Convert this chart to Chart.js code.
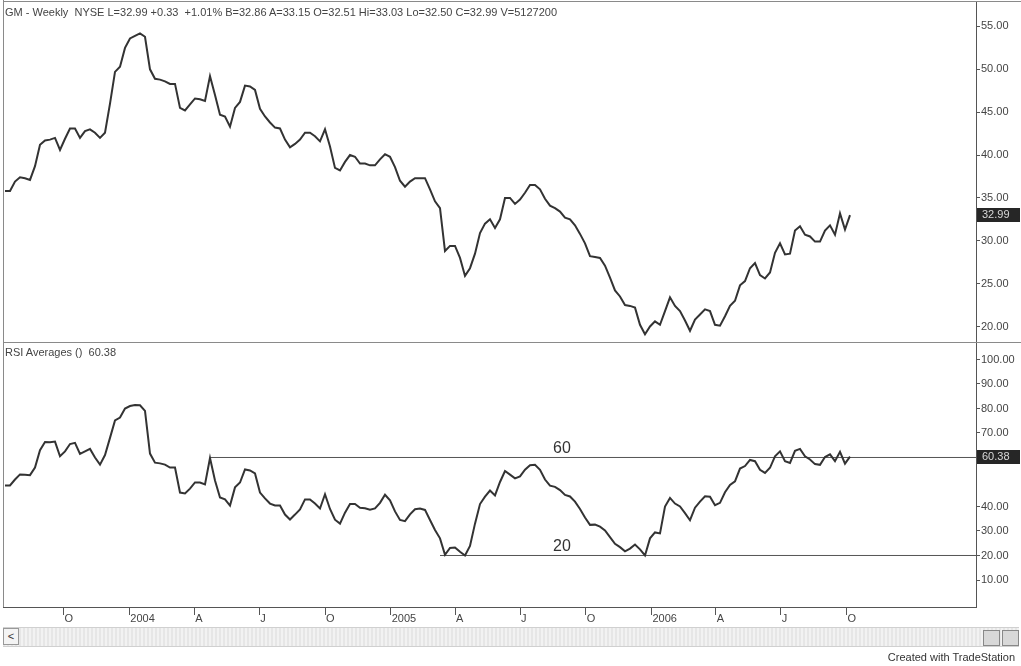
<!DOCTYPE html>
<html>
<head>
<meta charset="utf-8">
<script src="https://cdn.jsdelivr.net/npm/chart.js@4.4.1/dist/chart.umd.min.js"></script>
<style>
  body { margin: 0; background: #fff; width: 1021px; height: 666px; overflow: hidden; position: relative; font-family: "Liberation Sans", Arial, sans-serif; }
  canvas { position: absolute; left: 0; }
  .txt { position: absolute; font-size: 11px; color: #444; white-space: pre; line-height: 13px; }
  #scroll { position: absolute; left: 3px; top: 627px; width: 1016px; height: 18px; border-top: 1px solid #d0d0d0; border-bottom: 1px solid #d0d0d0;
    background: repeating-linear-gradient(90deg, #e6e6e6 0 2px, #f2f2f2 2px 4px); }
  #btnLeft { position: absolute; left: 3px; top: 628px; width: 14px; height: 15px; border: 1px solid #999; background: #f4f4f4; font-size: 11px; line-height: 15px; text-align: center; color: #333; }
  .icon { position: absolute; top: 630px; width: 15px; height: 14px; border: 1px solid #888; background: #d8d8d8; }
</style>
</head>
<body>
<canvas id="priceChart" width="1021" height="342" style="top:0"></canvas>
<canvas id="rsiChart" width="1021" height="324" style="top:342px"></canvas>
<div class="txt" style="left:5px; top:6px;">GM - Weekly  NYSE L=32.99 +0.33  +1.01% B=32.86 A=33.15 O=32.51 Hi=33.03 Lo=32.50 C=32.99 V=5127200</div>
<div class="txt" style="left:5px; top:346px;">RSI Averages ()  60.38</div>
<div id="scroll"></div>
<div id="btnLeft">&lt;</div>
<div class="icon" style="left:983px;"></div>
<div class="icon" style="left:1002px;"></div>
<div class="txt" style="right:6px; top:651px; color:#333;">Created with TradeStation</div>
<script>
// weekly closes, first bar = week of 2003-07-11
const price = [
  35.8, 35.8, 36.9, 37.4, 37.3, 37.1, 38.7, 41.2, 41.7, 41.8,
  42.0, 40.6, 41.9, 43.1, 43.1, 42.0, 42.8, 43.0, 42.6, 42.0,
  42.6, 46.0, 49.7, 50.3, 52.5, 53.6, 53.9, 54.2, 53.8, 50.0,
  48.9, 48.8, 48.6, 48.3, 48.3, 45.5, 45.2, 45.9, 46.6, 46.5,
  46.3, 49.2, 47.0, 44.7, 44.5, 43.3, 45.5, 46.2, 48.1, 48.0,
  47.6, 45.4, 44.5, 43.8, 43.2, 43.1, 41.8, 40.9, 41.3, 41.8,
  42.6, 42.6, 42.2, 41.6, 43.0, 41.0, 38.5, 38.2, 39.2, 40.0,
  39.8, 39.0, 39.0, 38.8, 38.8, 39.5, 40.1, 39.8, 38.6, 37.0,
  36.3, 36.9, 37.3, 37.3, 37.3, 36.0, 34.6, 33.8, 28.8, 29.4,
  29.4, 28.0, 25.9, 26.8, 28.5, 30.9, 32.0, 32.5, 31.5, 32.5,
  35.0, 35.0, 34.3, 34.8, 35.6, 36.5, 36.5, 36.0, 34.9, 34.1,
  33.8, 33.4, 32.7, 32.5, 31.8, 30.8, 29.7, 28.2, 28.1, 28.0,
  27.1, 25.7, 24.2, 23.5, 22.5, 22.4, 22.2, 20.2, 19.1, 20.0,
  20.6, 20.2, 21.8, 23.4, 22.4, 21.8, 20.7, 19.5, 20.8, 21.4,
  22.0, 21.8, 20.2, 20.1, 21.2, 22.4, 23.0, 24.8, 25.3, 26.8,
  27.4, 26.0, 25.6, 26.3, 28.6, 29.7, 28.4, 28.5, 31.2, 31.7,
  30.7, 30.5, 29.9, 29.9, 31.2, 31.8, 30.7, 33.2, 31.3, 32.99
];

const rsi = [
  48.6, 48.6, 51.0, 53.1, 53.0, 52.8, 55.9, 63.0, 66.3, 66.2,
  66.5, 60.5, 62.5, 65.5, 66.0, 61.5, 62.5, 63.5, 60.0, 57.1,
  61.0, 68.0, 75.1, 76.3, 80.0, 81.0, 81.4, 81.3, 79.0, 61.6,
  57.9, 57.6, 57.1, 55.9, 55.9, 45.7, 45.3, 47.3, 49.8, 49.8,
  49.0, 59.8, 50.6, 43.7, 42.9, 40.4, 47.8, 49.8, 55.1, 54.7,
  53.5, 45.7, 43.3, 41.2, 40.4, 40.4, 36.7, 34.7, 36.7, 38.8,
  42.9, 42.9, 41.2, 39.2, 45.0, 39.0, 34.6, 33.0, 37.5, 41.0,
  41.0, 39.5, 39.3, 38.7, 39.2, 41.5, 44.8, 42.5, 38.0, 34.5,
  34.0, 36.8, 38.9, 39.2, 38.6, 34.5, 30.4, 27.0, 20.3, 23.1,
  23.3, 21.5, 20.0, 23.9, 33.0, 41.0, 44.0, 46.5, 44.5, 50.0,
  54.5, 53.0, 51.5, 52.3, 55.0, 56.8, 57.0, 55.0, 51.0, 48.5,
  48.0, 46.7, 44.7, 44.1, 42.0, 39.0, 35.5, 32.5, 32.6, 31.8,
  30.2, 27.5, 24.8, 23.4, 21.7, 22.8, 24.5, 22.5, 20.0, 27.0,
  29.4, 29.0, 40.0, 43.5, 41.2, 40.0, 37.3, 34.4, 39.5, 42.0,
  44.2, 44.0, 40.5, 41.5, 45.8, 48.8, 50.3, 55.5, 56.5, 59.0,
  58.5, 55.0, 53.7, 55.8, 60.5, 62.5, 58.5, 57.8, 62.7, 63.5,
  60.5, 59.2, 57.3, 57.0, 60.2, 61.3, 58.5, 62.3, 57.5, 60.38
];

const firstBar = '2003-07-11';
const tickDates = ['2003-10-01', '2004-01-01', '2004-04-01', '2004-07-01', '2004-10-01', '2005-01-01',
  '2005-04-01', '2005-07-01', '2005-10-01', '2006-01-01', '2006-04-01', '2006-07-01', '2006-10-01'];
const tickLabels = ['O', '2004', 'A', 'J', 'O', '2005', 'A', 'J', 'O', '2006', 'A', 'J', 'O'];

const priceTicks = [20, 25, 30, 35, 40, 45, 50, 55];
const rsiTicks = [10, 20, 30, 40, 70, 80, 90, 100];

// horizontal RSI levels and the bar where each one starts
const levelValues = [60, 20];
const levelStart = [41, 87];
const levelLabels = ['60', '20'];

const X_MIN = -0.4, X_MAX = 194.2;
const FONT = { family: '"Liberation Sans", Arial, sans-serif', size: 11 };

function weekIndex(d) {
  return (new Date(d) - new Date(firstBar)) / (7 * 86400000);
}

const toPoints = arr => arr.map((v, i) => ({ x: i, y: v }));

const lastValueBox = {
  id: 'lastValueBox',
  afterDraw(chart) {
    const ds = chart.data.datasets[0].data;
    const last = ds[ds.length - 1].y;
    const y = chart.scales.y.getPixelForValue(last);
    const ctx = chart.ctx;
    ctx.save();
    ctx.fillStyle = '#262626';
    ctx.fillRect(chart.chartArea.right + 1, Math.round(y) - 7, 43, 14);
    ctx.fillStyle = '#d8d8d8';
    ctx.font = '11px "Liberation Sans", Arial, sans-serif';
    ctx.textBaseline = 'middle';
    ctx.fillText(last.toFixed(2), chart.chartArea.right + 6, Math.round(y));
    ctx.restore();
  }
};

const frame = {
  id: 'frame',
  afterDraw(chart, args, opts) {
    const { left, top, bottom } = chart.chartArea;
    const ctx = chart.ctx;
    ctx.save();
    ctx.strokeStyle = '#8a8a8a';
    ctx.lineWidth = 1;
    ctx.beginPath();
    ctx.moveTo(left + 0.5, opts.fromTop ? 0 : top);
    ctx.lineTo(left + 0.5, bottom);
    if (opts.topLine) {
      ctx.moveTo(left, top + 0.5);
      ctx.lineTo(chart.width, top + 0.5);
    }
    ctx.stroke();
    ctx.restore();
  }
};

const levelText = {
  id: 'levelText',
  afterDraw(chart) {
    const ctx = chart.ctx;
    const x = chart.scales.x.getPixelForValue(109.6);
    ctx.save();
    ctx.fillStyle = '#333';
    ctx.font = '16px "Liberation Sans", Arial, sans-serif';
    ctx.textBaseline = 'alphabetic';
    levelValues.forEach((v, i) => {
      ctx.fillText(levelLabels[i], x, chart.scales.y.getPixelForValue(v) - 4);
    });
    ctx.restore();
  }
};

function rightAxis(min, max, ticks) {
  return {
    position: 'right',
    min: min,
    max: max,
    afterFit: s => { s.width = 45; s.paddingTop = 0; s.paddingBottom = 0; },
    afterBuildTicks: s => { s.ticks = ticks.map(v => ({ value: v })); },
    border: { display: true, color: '#555', width: 1 },
    grid: { drawOnChartArea: false, tickLength: 4, color: '#555' },
    ticks: { font: FONT, color: '#444', padding: 1, callback: v => v.toFixed(2) }
  };
}

new Chart(document.getElementById('priceChart'), {
  type: 'line',
  data: {
    datasets: [{
      data: toPoints(price),
      borderColor: '#333',
      borderWidth: 2,
      pointRadius: 0,
      tension: 0
    }]
  },
  options: {
    responsive: false,
    animation: false,
    layout: { padding: { left: 3, top: 1, right: 0, bottom: 0 } },
    plugins: { legend: { display: false }, tooltip: { enabled: false }, frame: { fromTop: true, topLine: true } },
    scales: {
      x: { type: 'linear', min: X_MIN, max: X_MAX, display: false },
      y: rightAxis(18.19, 57.97, priceTicks)
    }
  },
  plugins: [frame, lastValueBox]
});

new Chart(document.getElementById('rsiChart'), {
  type: 'line',
  data: {
    datasets: [{
      data: toPoints(rsi),
      borderColor: '#333',
      borderWidth: 2,
      pointRadius: 0,
      tension: 0
    }].concat(levelValues.map((v, i) => ({
      data: [{ x: levelStart[i], y: v }, { x: X_MAX, y: v }],
      borderColor: '#555',
      borderWidth: 1,
      pointRadius: 0
    })))
  },
  options: {
    responsive: false,
    animation: false,
    layout: { padding: { left: 3, top: 0, right: 0, bottom: 0 } },
    plugins: { legend: { display: false }, tooltip: { enabled: false }, frame: { fromTop: false, topLine: true } },
    scales: {
      x: {
        type: 'linear',
        min: X_MIN,
        max: X_MAX,
        afterFit: s => { s.height = 59; s.paddingLeft = 0; s.paddingRight = 0; },
        afterBuildTicks: s => { s.ticks = tickDates.map(d => ({ value: weekIndex(d) })); },
        border: { display: true, color: '#555', width: 1 },
        grid: { drawOnChartArea: false, tickLength: 8, color: '#555' },
        ticks: {
          font: FONT,
          color: '#444',
          align: 'start',
          maxRotation: 0,
          autoSkip: false,
          padding: -3,
          labelOffset: 1,
          callback: (v, i) => tickLabels[i]
        }
      },
      y: rightAxis(-1.02, 107.14, rsiTicks)
    }
  },
  plugins: [frame, lastValueBox, levelText]
});
</script>
</body>
</html>
